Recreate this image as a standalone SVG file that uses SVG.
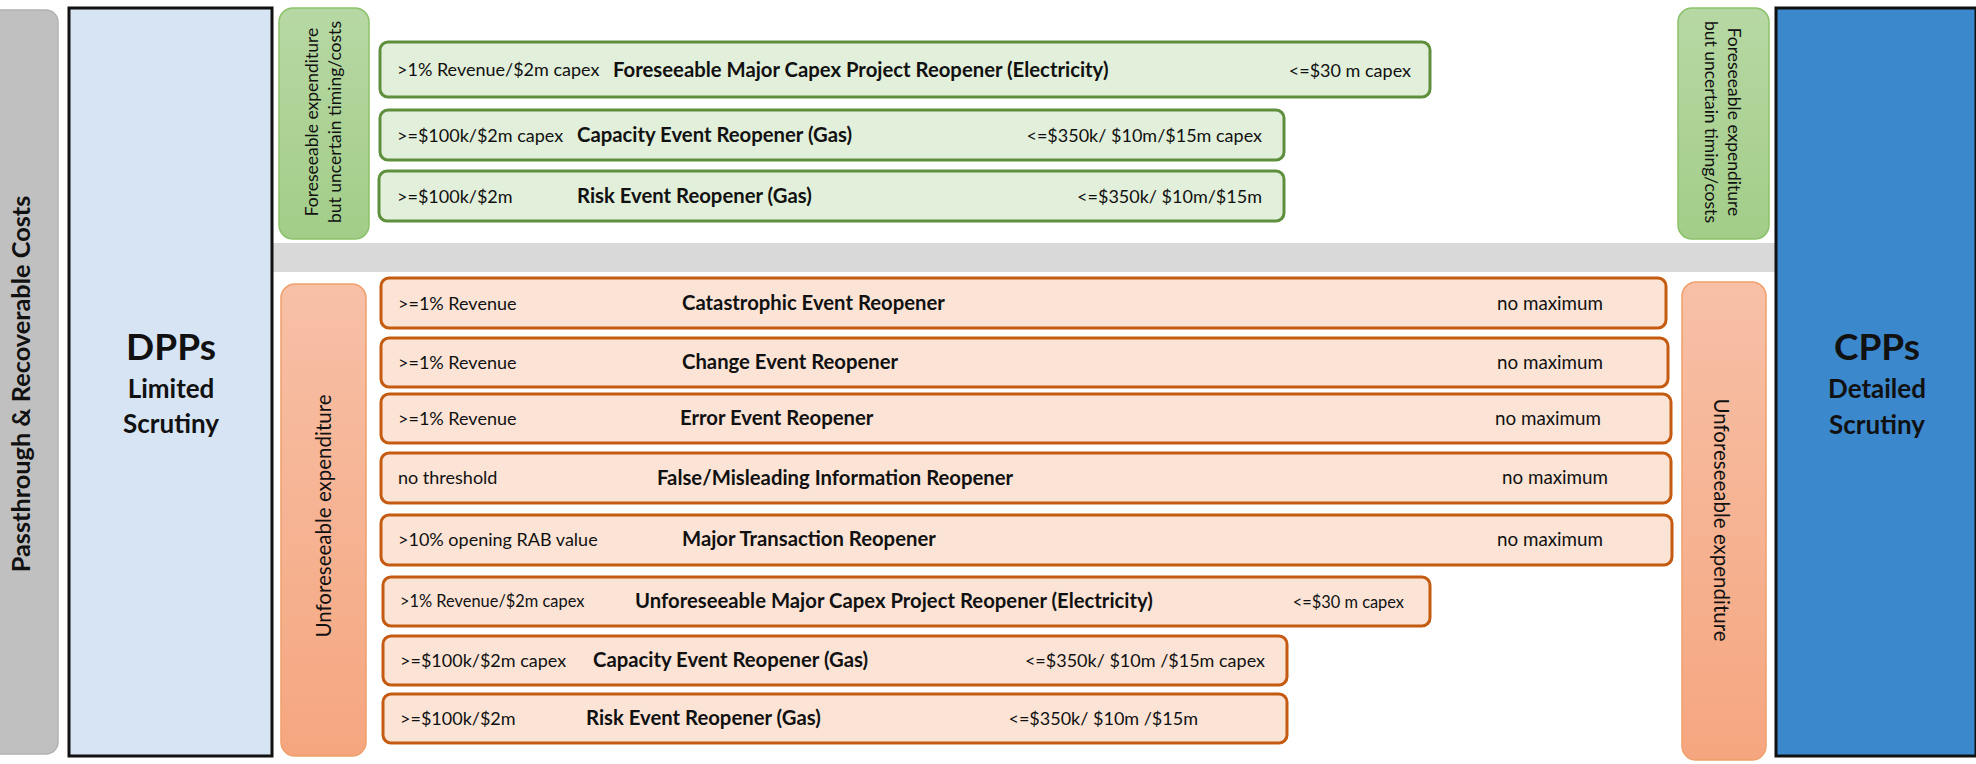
<svg xmlns="http://www.w3.org/2000/svg" width="1976" height="764" viewBox="0 0 1976 764">
<defs>
<linearGradient id="gGreen" x1="0" y1="0" x2="0" y2="1"><stop offset="0" stop-color="#b7d8a4"/><stop offset="1" stop-color="#a2cd88"/></linearGradient>
<linearGradient id="gOrange" x1="0" y1="0" x2="0" y2="1"><stop offset="0" stop-color="#f7c0a7"/><stop offset="1" stop-color="#f5a67f"/></linearGradient>
<style>
text{font-family:Lato,"Liberation Sans",sans-serif;fill:#111}
.g{fill:#e2efda;stroke:#5e8f3c;stroke-width:3}
.o{fill:#fbe4d6;stroke:#c55a11;stroke-width:3}
.xs{font-size:16.4px}
.md{font-size:18px}
.nm{font-size:18.8px}
.tt{font-size:20.3px;font-weight:bold}
.lbl{font-size:17.5px}
.big{font-size:37px;font-weight:bold}
.sub{font-size:26px;font-weight:bold}
.unf{font-size:20.5px}
</style>
</defs>
<rect width="1976" height="764" fill="#fff"/>
<g id="passthrough">
<rect x="-12" y="10" width="70" height="744" rx="12" fill="#c0c0c0" stroke="#b2b2b2" stroke-width="1.5"/>
<text transform="translate(30,384) rotate(-90)" text-anchor="middle" style="font-size:25.3px;font-weight:bold">Passthrough &amp; Recoverable Costs</text>
</g>
<g id="band"><rect x="272" y="243" width="1505" height="29" fill="#d9d9d9"/></g>
<g id="dpp">
<rect x="69" y="8" width="203" height="748" fill="#d6e4f4" stroke="#111" stroke-width="3"/>
<text class="big" x="171" y="360" text-anchor="middle">DPPs</text>
<text class="sub" x="171" y="398" text-anchor="middle">Limited</text>
<text class="sub" x="171" y="433" text-anchor="middle">Scrutiny</text>
</g>
<g id="cpp">
<rect x="1776" y="8" width="200" height="748" fill="#3c88cd" stroke="#111" stroke-width="3"/>
<text class="big" x="1877" y="360" text-anchor="middle">CPPs</text>
<text class="sub" x="1877" y="398" text-anchor="middle">Detailed</text>
<text class="sub" x="1877" y="434" text-anchor="middle">Scrutiny</text>
</g>
<g id="foreseeable-left">
<rect x="279" y="8" width="90" height="231" rx="14" fill="url(#gGreen)" stroke="#8cc26a" stroke-width="1.5"/>
<text transform="translate(318,122) rotate(-90)" text-anchor="middle" class="lbl">Foreseeable expenditure</text>
<text transform="translate(341,122) rotate(-90)" text-anchor="middle" class="lbl">but uncertain timing/costs</text>
</g>
<g id="foreseeable-right">
<rect x="1678" y="8" width="91" height="231" rx="14" fill="url(#gGreen)" stroke="#8cc26a" stroke-width="1.5"/>
<text transform="translate(1728,122) rotate(90)" text-anchor="middle" class="lbl">Foreseeable expenditure</text>
<text transform="translate(1705,122) rotate(90)" text-anchor="middle" class="lbl">but uncertain timing/costs</text>
</g>
<g id="unforeseeable-left">
<rect x="281" y="284" width="85" height="472" rx="14" fill="url(#gOrange)" stroke="#f0a06c" stroke-width="1.5"/>
<text transform="translate(331,516) rotate(-90)" text-anchor="middle" class="unf">Unforeseeable expenditure</text>
</g>
<g id="unforeseeable-right">
<rect x="1682" y="282" width="84" height="478" rx="14" fill="url(#gOrange)" stroke="#f0a06c" stroke-width="1.5"/>
<text transform="translate(1714,520) rotate(90)" text-anchor="middle" class="unf">Unforeseeable expenditure</text>
</g>
<g id="g1">
<rect class="g" x="380" y="42" width="1050" height="55" rx="8"/>
<text class="md" x="397" y="76">&gt;1% Revenue/$2m capex</text>
<text class="tt" x="613" y="77">Foreseeable Major Capex Project Reopener (Electricity)</text>
<text class="md" x="1411" y="77" text-anchor="end">&lt;=$30 m capex</text>
</g>
<g id="g2">
<rect class="g" x="380" y="110" width="904" height="50" rx="8"/>
<text class="md" x="397" y="142">&gt;=$100k/$2m capex</text>
<text class="tt" x="577" y="142">Capacity Event Reopener (Gas)</text>
<text class="md" x="1262" y="142" text-anchor="end">&lt;=$350k/ $10m/$15m capex</text>
</g>
<g id="g3">
<rect class="g" x="379" y="171" width="905" height="50" rx="8"/>
<text class="md" x="397" y="203">&gt;=$100k/$2m</text>
<text class="tt" x="577" y="203">Risk Event Reopener (Gas)</text>
<text class="md" x="1262" y="203" text-anchor="end">&lt;=$350k/ $10m/$15m</text>
</g>
<g id="o1">
<rect class="o" x="381" y="278" width="1285" height="50" rx="8"/>
<text class="md" x="398" y="310">&gt;=1% Revenue</text>
<text class="tt" x="682" y="310">Catastrophic Event Reopener</text>
<text class="nm" x="1497" y="310">no maximum</text>
</g>
<g id="o2">
<rect class="o" x="381" y="338" width="1287" height="49" rx="8"/>
<text class="md" x="398" y="369">&gt;=1% Revenue</text>
<text class="tt" x="682" y="369">Change Event Reopener</text>
<text class="nm" x="1497" y="369">no maximum</text>
</g>
<g id="o3">
<rect class="o" x="381" y="394" width="1290" height="49" rx="8"/>
<text class="md" x="398" y="425">&gt;=1% Revenue</text>
<text class="tt" x="680" y="425">Error Event Reopener</text>
<text class="nm" x="1495" y="425">no maximum</text>
</g>
<g id="o4">
<rect class="o" x="381" y="453" width="1290" height="50" rx="8"/>
<text class="md" x="398" y="484">no threshold</text>
<text class="tt" x="657" y="485">False/Misleading Information Reopener</text>
<text class="nm" x="1502" y="484">no maximum</text>
</g>
<g id="o5">
<rect class="o" x="381" y="515" width="1291" height="50" rx="8"/>
<text class="md" x="398" y="546">&gt;10% opening RAB value</text>
<text class="tt" x="682" y="546">Major Transaction Reopener</text>
<text class="nm" x="1497" y="546">no maximum</text>
</g>
<g id="o6">
<rect class="o" x="383" y="577" width="1047" height="49" rx="8"/>
<text class="xs" x="400" y="607">&gt;1% Revenue/$2m capex</text>
<text class="tt" x="635" y="608">Unforeseeable Major Capex Project Reopener (Electricity)</text>
<text class="xs" x="1404" y="608" text-anchor="end">&lt;=$30 m capex</text>
</g>
<g id="o7">
<rect class="o" x="383" y="636" width="904" height="49" rx="8"/>
<text class="md" x="400" y="667">&gt;=$100k/$2m capex</text>
<text class="tt" x="593" y="667">Capacity Event Reopener (Gas)</text>
<text class="md" x="1265" y="667" text-anchor="end">&lt;=$350k/ $10m /$15m capex</text>
</g>
<g id="o8">
<rect class="o" x="383" y="694" width="904" height="49" rx="8"/>
<text class="md" x="400" y="725">&gt;=$100k/$2m</text>
<text class="tt" x="586" y="725">Risk Event Reopener (Gas)</text>
<text class="md" x="1198" y="725" text-anchor="end">&lt;=$350k/ $10m /$15m</text>
</g>
<g id="connectors"/>
</svg>
